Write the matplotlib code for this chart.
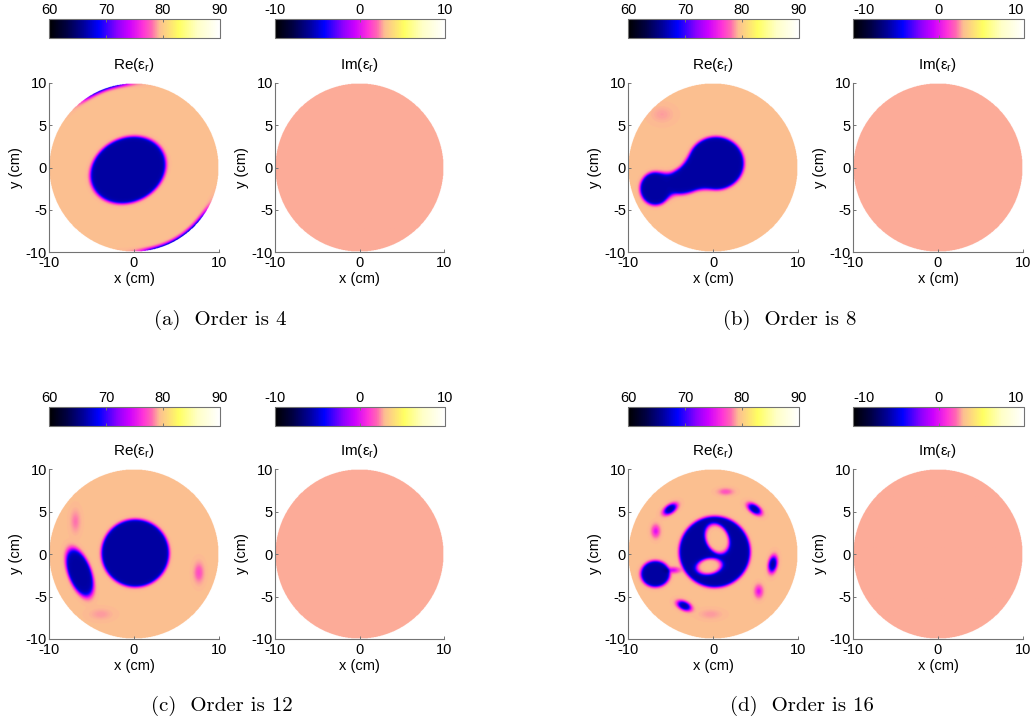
import numpy as np
import matplotlib
matplotlib.use("Agg")
import matplotlib.pyplot as plt
from matplotlib.colors import LinearSegmentedColormap, Normalize

plt.rcParams['font.family'] = ['Liberation Sans', 'DejaVu Sans']
plt.rcParams['axes.unicode_minus'] = False

# ---------------- data ----------------
ORDERS = [4, 8, 12, 16]
LETTERS = ['a', 'b', 'c', 'd']
RE_LIM = [60, 90]
IM_LIM = [-10, 10]
RE_TICKS = [60, 70, 80, 90]
IM_TICKS = [-10, 0, 10]
X_TICKS = [-10, 0, 10]
Y_TICKS = [-10, -5, 0, 5, 10]
RADIUS = 10.0
RE_BACKGROUND = 79.35
RE_INCLUSION = 66.3
IM_VALUE = 2.7

# inclusions: (cx, cy, semi-axis a, semi-axis b, angle deg)
BLOBS_4 = [(-0.7, -0.3, 4.45, 3.65, 28)]
BLOBS_8 = [(0.35, 0.5, 3.15, 3.0, 0), (-2.2, -0.9, 2.6, 1.6, 30),
           (-4.5, -1.85, 1.3, 0.95, 0), (-6.8, -2.5, 1.65, 1.8, 0)]
BLOBS_12 = [(0.15, 0.1, 3.85, 3.85, 0), (-6.4, -2.2, 2.65, 1.2, -70)]
BLOBS_16 = [(0.2, 0.25, 4.05, 4.05, 0), (-6.8, -2.35, 1.55, 1.4, 0),
            (-5.05, 5.3, 0.6, 0.33, 35), (4.9, 5.3, 0.6, 0.33, -35),
            (7.05, -1.2, 0.65, 0.33, 80), (-3.4, -6.1, 0.58, 0.33, -25)]
HOLES_16 = [(0.5, 1.8, 2.0, 1.45, -65), (-0.45, -1.45, 1.7, 1.05, 10)]
# faint spots: (cx, cy, depth, sx, sy)
SPOTS_8 = [(-6.0, 6.3, 0.5, 0.8, 0.6)]
SPOTS_12 = [(-6.9, 3.85, 1.2, 0.35, 0.8), (7.65, -2.2, 2.2, 0.35, 0.7),
            (-3.9, -7.1, 0.6, 0.8, 0.4)]
SPOTS_16 = [(1.5, 7.35, 2.0, 0.55, 0.25), (-6.75, 2.7, 4.5, 0.3, 0.45),
            (5.4, -4.4, 4.5, 0.3, 0.45), (-0.3, -7.1, 0.6, 0.8, 0.35),
            (-4.7, -1.9, 5.0, 0.5, 0.22)]
# edge artefact arcs for order 4: (start deg, end deg, depth)
ARCS_4 = [(95, 125, 11.0), (-83, -32, 12.0)]
NECK_K = [0.3, 1.0, 0.3, 0.3]

BLOBS = [BLOBS_4, BLOBS_8, BLOBS_12, BLOBS_16]
HOLES = [[], [], [], HOLES_16]
SPOTS = [[], SPOTS_8, SPOTS_12, SPOTS_16]
ARCS = [ARCS_4, [], [], []]

# colormap (black-blue-magenta-peach-yellow-white)
CMAP_NODES = [
    (0.00, (0.0, 0.0, 0.0)),
    (0.10, (0.0, 0.0, 0.25)),
    (0.20, (0.0, 0.0, 0.60)),
    (0.29, (0.0, 0.0, 1.0)),
    (0.40, (0.55, 0.0, 1.0)),
    (0.47, (0.80, 0.0, 1.0)),
    (0.55, (1.0, 0.2, 0.85)),
    (0.60, (1.0, 0.40, 0.70)),
    (0.645, (0.988, 0.745, 0.57)),
    (0.76, (1.0, 1.0, 0.38)),
    (0.87, (1.0, 1.0, 0.78)),
    (1.00, (1.0, 1.0, 1.0)),
]
cmap = LinearSegmentedColormap.from_list('bmy', CMAP_NODES)
cmap.set_bad((1, 1, 1, 0))

# ---------------- field construction ----------------
N = 400
g = np.linspace(-RADIUS, RADIUS, N)
X, Y = np.meshgrid(g, g)
R = np.hypot(X, Y)
TH = np.degrees(np.arctan2(Y, X))


def ell_dist(cx, cy, a, b, ang):
    t = np.deg2rad(ang)
    dx, dy = X - cx, Y - cy
    u = dx * np.cos(t) + dy * np.sin(t)
    v = -dx * np.sin(t) + dy * np.cos(t)
    q = np.sqrt((u / a) ** 2 + (v / b) ** 2)
    return (q - 1) * min(a, b)


def smin(d1, d2, k):
    h = np.clip(0.5 + 0.5 * (d2 - d1) / k, 0, 1)
    return d2 * (1 - h) + d1 * h - k * h * (1 - h)


def re_field(i):
    d = None
    for p in BLOBS[i]:
        e = ell_dist(*p)
        d = e if d is None else smin(d, e, NECK_K[i])
    for p in HOLES[i]:
        e = ell_dist(*p)
        d = -smin(-d, e, 0.3)
    w = 0.09
    d = d - 0.12
    f = RE_BACKGROUND + (RE_INCLUSION - RE_BACKGROUND) / (1 + np.exp(np.clip(d / w, -50, 50)))
    for cx, cy, depth, sx, sy in SPOTS[i]:
        f = f - depth * np.exp(-0.5 * (((X - cx) / sx) ** 2 + ((Y - cy) / sy) ** 2))
    for t0, t1, depth in ARCS[i]:
        win = 1 / (1 + np.exp(-(TH - t0) / 3)) * 1 / (1 + np.exp((TH - t1) / 3))
        f = f - depth * win * np.exp(-((R - RADIUS) / 0.3) ** 2)
    f = np.where(R <= RADIUS, f, np.nan)
    return np.ma.masked_invalid(f)


def im_field(i):
    f = np.where(R <= RADIUS, IM_VALUE, np.nan)
    return np.ma.masked_invalid(f)


# ---------------- layout ----------------
W, H = 1030, 725
fig = plt.figure(figsize=(W / 100, H / 100), dpi=100)


def fbox(x0, x1, ytop, ybot):
    return [x0 / W, 1 - ybot / H, (x1 - x0) / W, (ybot - ytop) / H]


COLS = [(49, 219, 275, 444), (628, 798, 853, 1023)]
ROWS = [(83, 252, 19, 38), (469, 639, 407, 426)]
CAPTION_POS = [(220, 320), (790, 320), (222, 706), (802, 706)]

GREY = '0.45'


def style_axes(ax):
    ax.set_xlim(-RADIUS, RADIUS)
    ax.set_ylim(-RADIUS, RADIUS)
    ax.spines['top'].set_visible(False)
    ax.spines['right'].set_visible(False)
    for s in ('left', 'bottom'):
        ax.spines[s].set_color(GREY)
        ax.spines[s].set_linewidth(0.8)
    ax.set_xticks(X_TICKS)
    ax.set_yticks(Y_TICKS)
    ax.tick_params(direction='in', length=2.5, color=GREY, labelsize=10.5,
                   width=0.7)
    ax.tick_params(axis='x', pad=3)
    ax.tick_params(axis='y', pad=1.5)
    ax.set_xlabel('x (cm)', fontsize=10.5, labelpad=1)
    ax.set_ylabel('y (cm)', fontsize=10.5, labelpad=2)


def add_cbar(box, norm, ticks, inside_edges=False):
    cax = fig.add_axes(box)
    sm = matplotlib.cm.ScalarMappable(norm=norm, cmap=cmap)
    cb = fig.colorbar(sm, cax=cax, orientation='horizontal', ticks=ticks)
    cb.outline.set_edgecolor(GREY)
    cb.outline.set_linewidth(0.8)
    cax.tick_params(top=True, bottom=True, labeltop=True, labelbottom=False,
                    direction='in', length=2.5, color=GREY, labelsize=10.5,
                    pad=1.5, width=0.7)
    cax.set_xticklabels([str(t) for t in ticks])
    if inside_edges:
        labels = cax.get_xticklabels()
        labels[0].set_horizontalalignment('left')
        labels[-1].set_horizontalalignment('right')


re_norm = Normalize(*RE_LIM)
im_norm = Normalize(*IM_LIM)

for i in range(4):
    r, c = divmod(i, 2)
    ax0, ax1, bx0, bx1 = COLS[c]
    ytop, ybot, ctop, cbot = ROWS[r]

    ax_re = fig.add_axes(fbox(ax0, ax1, ytop, ybot))
    ax_re.imshow(re_field(i), cmap=cmap, norm=re_norm, origin='lower',
                 extent=[-RADIUS, RADIUS, -RADIUS, RADIUS], aspect='auto',
                 interpolation='bilinear')
    style_axes(ax_re)
    ax_re.set_title('Re(ε$_{\\mathregular{r}}$)', fontsize=11, pad=10)
    add_cbar(fbox(ax0, ax1 + 1, ctop, cbot), re_norm, RE_TICKS)

    ax_im = fig.add_axes(fbox(bx0, bx1, ytop, ybot))
    ax_im.imshow(im_field(i), cmap=cmap, norm=im_norm, origin='lower',
                 extent=[-RADIUS, RADIUS, -RADIUS, RADIUS], aspect='auto',
                 interpolation='bilinear')
    style_axes(ax_im)
    ax_im.set_title('Im(ε$_{\\mathregular{r}}$)', fontsize=11, pad=10)
    add_cbar(fbox(bx0, bx1 + 1, ctop, cbot), im_norm, IM_TICKS,
             inside_edges=(c == 1))

    cx, cy = CAPTION_POS[i]
    fig.text(cx / W, 1 - cy / H, f'({LETTERS[i]})  Order is {ORDERS[i]}',
             ha='center', va='center', fontfamily='cmr10', fontsize=15)

fig.savefig('out.png', dpi=100)
